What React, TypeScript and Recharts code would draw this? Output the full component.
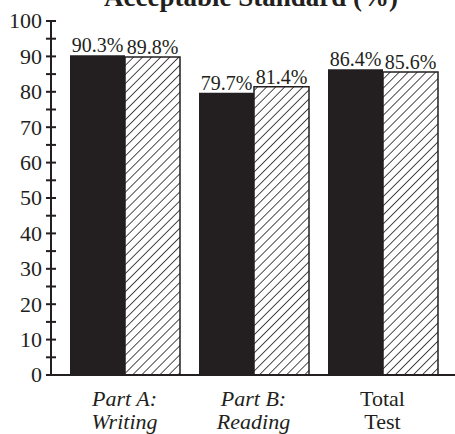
import { Bar, BarChart, LabelList, XAxis, YAxis } from "recharts";

const INK = "#231f20";
const FONT = "'Liberation Serif', 'Times New Roman', serif";

const categories = ["Part A:|Writing", "Part B:|Reading", "Total|Test"];
const italicCategories = ["Part A:|Writing", "Part B:|Reading"];
const firstSeries = [90.3, 79.7, 86.4];
const secondSeries = [89.8, 81.4, 85.6];
const yTicks = [0, 5, 10, 15, 20, 25, 30, 35, 40, 45, 50, 55, 60, 65, 70, 75, 80, 85, 90, 95, 100];

const data = categories.map((name, i) => ({ name, a: firstSeries[i], b: secondSeries[i] }));

function YTick({ x, y, payload }: any) {
  const v = payload.value as number;
  return (
    <g>
      <line x1={x - 5} x2={x + 5} y1={y} y2={y} stroke={INK} strokeWidth={2} />
      {v % 10 === 0 && (
        <text x={x - 9} y={y} dy="0.34em" textAnchor="end" fontSize={22} fontFamily={FONT} fill={INK}>
          {v}
        </text>
      )}
    </g>
  );
}

function XTick({ x, y, payload }: any) {
  const lines = String(payload.value).split("|");
  const italic = italicCategories.includes(payload.value);
  return (
    <text
      x={x}
      y={y}
      textAnchor="middle"
      fontSize={22}
      fontFamily={FONT}
      fontStyle={italic ? "italic" : "normal"}
      fill={INK}
    >
      {lines.map((l, i) => (
        <tspan key={i} x={x} dy={i === 0 ? 31 : 23}>
          {l}
        </tspan>
      ))}
    </text>
  );
}

const pct = (v: any) => `${v}%`;

export default function App() {
  return (
    <div style={{ position: "absolute", left: 0, top: 0, width: 455, height: 434, background: "#fff" }}>
      <svg width={455} height={434} style={{ position: "absolute", left: 0, top: 0, pointerEvents: "none" }}>
        <defs>
          <pattern id="hatch" patternUnits="userSpaceOnUse" width={6.4} height={6.4} patternTransform="rotate(45)">
            <rect width={6.4} height={6.4} fill="#fff" />
            <line x1={0} y1={0} x2={0} y2={6.4} stroke={INK} strokeWidth={1.6} />
          </pattern>
        </defs>
        <text x={251} y={6} textAnchor="middle" fontSize={27} fontWeight="bold" fontFamily={FONT} fill={INK}>
          Acceptable Standard (%)
        </text>
      </svg>
      <div style={{ position: "absolute", left: 0, top: 0 }}>
        <BarChart
          width={455}
          height={434}
          data={data}
          margin={{ top: 21, right: 0, bottom: 0, left: 0 }}
          barGap={0}
          barSize={55}
        >
          <XAxis
            dataKey="name"
            height={59}
            padding={{ left: 9, right: 8 }}
            tick={<XTick />}
            tickLine={false}
            tickSize={0}
            tickMargin={0}
            interval={0}
            axisLine={{ stroke: INK, strokeWidth: 2 }}
          />
          <YAxis
            width={51}
            domain={[0, 100]}
            ticks={yTicks}
            interval={0}
            tick={<YTick />}
            tickLine={false}
            tickSize={0}
            tickMargin={0}
            axisLine={{ stroke: INK, strokeWidth: 2 }}
          />
          <Bar dataKey="a" fill={INK} isAnimationActive={false}>
            <LabelList dataKey="a" position="top" offset={3} formatter={pct} fontSize={20} fontFamily={FONT} fill={INK} />
          </Bar>
          <Bar dataKey="b" fill="url(#hatch)" stroke={INK} strokeWidth={1.5} isAnimationActive={false}>
            <LabelList dataKey="b" position="top" offset={3} formatter={pct} fontSize={20} fontFamily={FONT} fill={INK} stroke="none" />
          </Bar>
        </BarChart>
      </div>
    </div>
  );
}
